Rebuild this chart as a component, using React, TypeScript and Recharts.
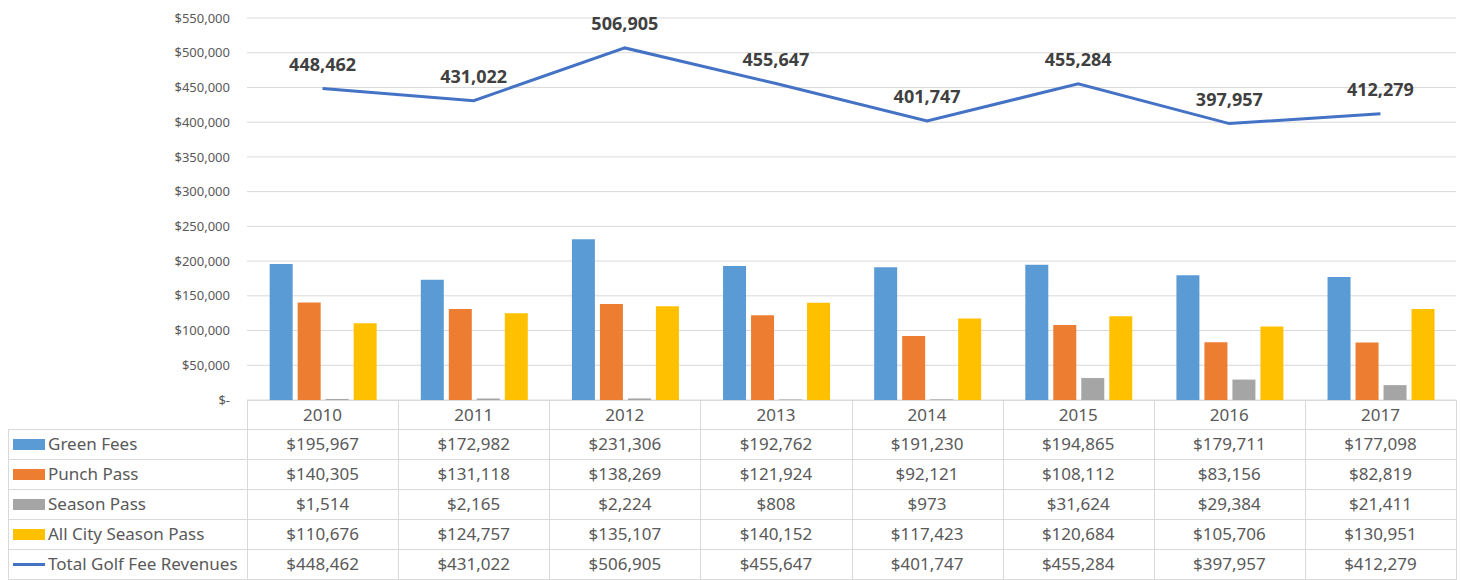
import React from 'react';
import { ComposedChart, Bar, Line, XAxis, YAxis, CartesianGrid, LabelList } from 'recharts';

const years = ['2010', '2011', '2012', '2013', '2014', '2015', '2016', '2017'];
const greenFees = [195967, 172982, 231306, 192762, 191230, 194865, 179711, 177098];
const punchPass = [140305, 131118, 138269, 121924, 92121, 108112, 83156, 82819];
const seasonPass = [1514, 2165, 2224, 808, 973, 31624, 29384, 21411];
const allCitySeasonPass = [110676, 124757, 135107, 140152, 117423, 120684, 105706, 130951];
const totalRevenues = [448462, 431022, 506905, 455647, 401747, 455284, 397957, 412279];
const yTicks = [0, 50000, 100000, 150000, 200000, 250000, 300000, 350000, 400000, 450000, 500000, 550000];

const seriesDefs = [
  { key: 'green', name: 'Green Fees', values: greenFees, color: '#5B9BD5', kind: 'bar' },
  { key: 'punch', name: 'Punch Pass', values: punchPass, color: '#ED7D31', kind: 'bar' },
  { key: 'season', name: 'Season Pass', values: seasonPass, color: '#A5A5A5', kind: 'bar' },
  { key: 'allcity', name: 'All City Season Pass', values: allCitySeasonPass, color: '#FFC000', kind: 'bar' },
  { key: 'total', name: 'Total Golf Fee Revenues', values: totalRevenues, color: '#4472C4', kind: 'line' },
];

const data = years.map((y, i) => {
  const row: any = { year: y };
  seriesDefs.forEach((s) => (row[s.key] = s.values[i]));
  return row;
});

const FONT = '"Noto Sans", "DejaVu Sans", sans-serif';
const LINE_COLOR = '#D9D9D9';

const fmtMoney = (v: number) => (v === 0 ? '$-' : '$' + v.toLocaleString('en-US'));
const fmtNum = (v: number) => v.toLocaleString('en-US');

export default function App() {
  const W = 1449;
  const tLeft = 0; // page x 8
  const firstCol = 239; // page x 247
  const tRight = 1448; // page x 1456
  const colW = (tRight - firstCol) / years.length;
  const tTop = 392; // page y 400
  const headerH = 29;
  const rowH = 30;
  const rowsTop = tTop + headerH;
  const tBottom = rowsTop + rowH * seriesDefs.length;

  const lines: React.ReactNode[] = [];
  // horizontal lines
  lines.push(
    <div key="h-top" style={{ position: 'absolute', left: firstCol, top: tTop, width: tRight - firstCol + 1, height: 1, background: LINE_COLOR }} />
  );
  for (let r = 0; r <= seriesDefs.length; r++) {
    lines.push(
      <div key={'h' + r} style={{ position: 'absolute', left: tLeft, top: rowsTop + r * rowH, width: tRight - tLeft + 1, height: 1, background: LINE_COLOR }} />
    );
  }
  // vertical lines
  lines.push(
    <div key="v-left" style={{ position: 'absolute', left: tLeft, top: rowsTop, width: 1, height: tBottom - rowsTop + 1, background: LINE_COLOR }} />
  );
  for (let c = 0; c <= years.length; c++) {
    lines.push(
      <div key={'v' + c} style={{ position: 'absolute', left: Math.round(firstCol + c * colW), top: tTop, width: 1, height: tBottom - tTop + 1, background: LINE_COLOR }} />
    );
  }

  const cells: React.ReactNode[] = [];
  years.forEach((y, c) => {
    cells.push(
      <div key={'y' + c} style={{ position: 'absolute', left: firstCol + c * colW, top: tTop, width: colW, height: headerH, lineHeight: headerH + 'px', textAlign: 'center' }}>
        {y}
      </div>
    );
  });
  seriesDefs.forEach((s, r) => {
    const top = rowsTop + r * rowH;
    cells.push(
      <div key={'n' + r} style={{ position: 'absolute', left: tLeft, top, width: firstCol, height: rowH, display: 'flex', alignItems: 'center', whiteSpace: 'nowrap' }}>
        <span style={{ display: 'inline-block', marginLeft: 5, marginRight: 3, width: 32, height: s.kind === 'line' ? 3 : 11, background: s.color, flex: 'none' }} />
        <span style={{ lineHeight: rowH + 'px' }}>{s.name}</span>
      </div>
    );
    s.values.forEach((v, c) => {
      cells.push(
        <div key={'c' + r + '-' + c} style={{ position: 'absolute', left: firstCol + c * colW, top, width: colW, height: rowH, lineHeight: rowH + 'px', textAlign: 'center' }}>
          {fmtMoney(v)}
        </div>
      );
    });
  });

  return (
    <div style={{ position: 'relative', width: W, height: 572, fontFamily: FONT }}>
      <ComposedChart
        width={W}
        height={400}
        data={data}
        margin={{ top: 10, right: 1, bottom: 8, left: 0 }}
        barCategoryGap="15%"
        barGap={5}
      >
        <CartesianGrid vertical={false} stroke="#D9D9D9" />
        <XAxis dataKey="year" hide />
        <YAxis
          width={239}
          domain={[0, 550000]}
          ticks={yTicks}
          tickFormatter={fmtMoney}
          axisLine={false}
          tickLine={false}
          tickSize={0}
          tickMargin={17}
          interval={0}
          tick={{ fill: '#595959', fontSize: 13, fontFamily: FONT }}
        />
        {seriesDefs
          .filter((s) => s.kind === 'bar')
          .map((s) => (
            <Bar key={s.key} dataKey={s.key} name={s.name} fill={s.color} isAnimationActive={false} />
          ))}
        <Line
          dataKey="total"
          name="Total Golf Fee Revenues"
          stroke="#4472C4"
          strokeWidth={3}
          dot={false}
          activeDot={false}
          isAnimationActive={false}
        >
          <LabelList
            dataKey="total"
            position="top"
            offset={18}
            formatter={(v: any) => fmtNum(Number(v))}
            style={{ fill: '#404040', fontSize: 18, fontWeight: 700, fontFamily: FONT }}
          />
        </Line>
      </ComposedChart>
      <div style={{ position: 'absolute', left: 0, top: 0, width: W, height: 580, fontSize: 17, color: '#595959' }}>
        {lines}
        {cells}
      </div>
    </div>
  );
}
